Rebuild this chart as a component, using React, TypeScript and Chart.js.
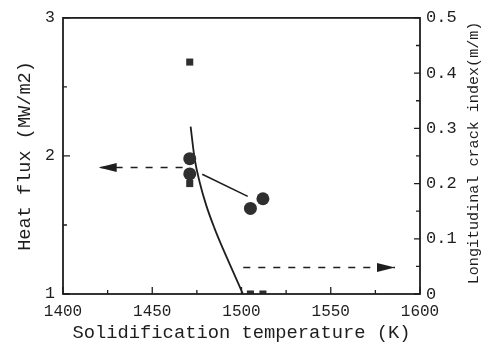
import { useEffect, useRef } from "react";
import { Chart, registerables } from "chart.js";

Chart.register(...registerables);

// Axis ranges
const tempRange = [1400, 1600];
const fluxRange = [1, 3];
const crackRange = [0, 0.5];

// Labelled and minor tick positions
const tempTicks = [1400, 1450, 1500, 1550, 1600];
const tempMinorTicks = [1425, 1475, 1525, 1575];
const fluxTicks = [1, 2, 3];
const fluxMinorTicks = [1.5, 2.5];
const crackTicks = [0, 0.1, 0.2, 0.3, 0.4, 0.5];
const crackMinorTicks = [0.05, 0.15, 0.25, 0.35, 0.45];

// Heat flux measurements (left axis, circles)
const fluxTemps = [1471, 1471, 1505, 1512];
const fluxValues = [1.98, 1.87, 1.62, 1.69];

// Longitudinal crack index measurements (right axis, squares)
const crackTemps = [1471, 1471, 1505, 1512];
const crackValues = [0.42, 0.2, 0, 0];

// Crack index trend curve (right axis)
const curveTemps = [1471.5, 1473.8, 1476.6, 1480.3, 1485.0, 1489.6, 1495.2, 1500.8];
const curveValues = [0.303, 0.244, 0.202, 0.16, 0.118, 0.082, 0.041, 0];

// Heat flux trend segment (left axis)
const trendTemps = [1478, 1503.5];
const trendValues = [1.867, 1.707];

// Dashed arrows: tail first, tip last
const fluxArrowTemps = [1467, 1420];
const fluxArrowValues = [1.917, 1.917];
const crackArrowTemps = [1501, 1586];
const crackArrowValues = [0.048, 0.048];

const INK = "#1e1e1e";
const MARK = "#2f2f2f";
const FONT = "'Liberation Mono', 'DejaVu Sans Mono', monospace";

const pts = (xs: number[], ys: number[]) => xs.map((x, i) => ({ x, y: ys[i] }));

const framePlugin = {
  id: "frame",
  beforeDraw(chart: any) {
    const { ctx, width, height } = chart;
    ctx.save();
    ctx.fillStyle = "#ffffff";
    ctx.fillRect(0, 0, width, height);
    ctx.restore();
  },
  afterDatasetsDraw(chart: any) {
    const { ctx, chartArea: a, scales } = chart;
    const xs = scales.x;
    const ys = scales.y;
    const y1s = scales.y1;
    ctx.save();
    ctx.strokeStyle = INK;
    ctx.fillStyle = INK;

    // plot frame
    ctx.lineWidth = 1.8;
    ctx.strokeRect(a.left, a.top, a.right - a.left, a.bottom - a.top);

    // inward tick marks
    ctx.lineWidth = 1.3;
    ctx.beginPath();
    const xTick = (v: number, len: number) => {
      const px = xs.getPixelForValue(v);
      ctx.moveTo(px, a.bottom);
      ctx.lineTo(px, a.bottom - len);
    };
    tempTicks.forEach((v) => xTick(v, 7));
    tempMinorTicks.forEach((v) => xTick(v, 4));
    const lTick = (v: number, len: number) => {
      const py = ys.getPixelForValue(v);
      ctx.moveTo(a.left, py);
      ctx.lineTo(a.left + len, py);
    };
    fluxTicks.forEach((v) => lTick(v, 7));
    fluxMinorTicks.forEach((v) => lTick(v, 4));
    const rTick = (v: number, len: number) => {
      const py = y1s.getPixelForValue(v);
      ctx.moveTo(a.right, py);
      ctx.lineTo(a.right - len, py);
    };
    crackTicks.forEach((v) => rTick(v, 6));
    crackMinorTicks.forEach((v) => rTick(v, 4));
    ctx.stroke();

    // arrow heads at the tip of each dashed arrow
    const head = (tx: number[], ty: number[], scale: any) => {
      const n = tx.length - 1;
      const x0 = xs.getPixelForValue(tx[n - 1]);
      const y0 = scale.getPixelForValue(ty[n - 1]);
      const x1 = xs.getPixelForValue(tx[n]);
      const y1 = scale.getPixelForValue(ty[n]);
      const d = Math.hypot(x1 - x0, y1 - y0) || 1;
      const ux = (x1 - x0) / d;
      const uy = (y1 - y0) / d;
      const len = 18;
      const hw = 4.5;
      const bx = x1 - ux * len;
      const by = y1 - uy * len;
      ctx.beginPath();
      ctx.moveTo(x1, y1);
      ctx.lineTo(bx - uy * hw, by + ux * hw);
      ctx.lineTo(bx + uy * hw, by - ux * hw);
      ctx.closePath();
      ctx.fill();
    };
    head(fluxArrowTemps, fluxArrowValues, ys);
    head(crackArrowTemps, crackArrowValues, y1s);

    // right axis title, reading bottom to top
    ctx.font = `15.1px ${FONT}`;
    ctx.textAlign = "center";
    ctx.textBaseline = "middle";
    ctx.translate(a.right + 54, (a.top + a.bottom) / 2 - 3);
    ctx.rotate(-Math.PI / 2);
    ctx.fillText("Longitudinal crack index(m/m)", 0, 0);
    ctx.restore();
  },
};

export default function App() {
  const canvasRef = useRef<HTMLCanvasElement | null>(null);

  useEffect(() => {
    const canvas = canvasRef.current;
    if (!canvas) return;

    const chart = new Chart(canvas, {
      type: "line",
      data: {
        datasets: [
          {
            label: "Heat flux",
            data: pts(fluxTemps, fluxValues),
            yAxisID: "y",
            showLine: false,
            pointStyle: "circle",
            pointRadius: 6.5,
            pointBackgroundColor: MARK,
            pointBorderWidth: 0,
            borderColor: MARK,
          },
          {
            label: "Crack index",
            data: pts(crackTemps, crackValues),
            yAxisID: "y1",
            showLine: false,
            pointStyle: "rect",
            pointRadius: 5,
            pointBackgroundColor: MARK,
            pointBorderWidth: 0,
            borderColor: MARK,
          },
          {
            label: "Crack index trend",
            data: pts(curveTemps, curveValues),
            yAxisID: "y1",
            borderColor: INK,
            borderWidth: 1.8,
            pointRadius: 0,
            cubicInterpolationMode: "monotone",
          },
          {
            label: "Heat flux trend",
            data: pts(trendTemps, trendValues),
            yAxisID: "y",
            borderColor: INK,
            borderWidth: 1.6,
            pointRadius: 0,
          },
          {
            label: "Heat flux axis arrow",
            data: pts(fluxArrowTemps, fluxArrowValues),
            yAxisID: "y",
            borderColor: INK,
            borderWidth: 1.5,
            borderDash: [7, 8],
            pointRadius: 0,
          },
          {
            label: "Crack index axis arrow",
            data: pts(crackArrowTemps, crackArrowValues),
            yAxisID: "y1",
            borderColor: INK,
            borderWidth: 1.5,
            borderDash: [7, 8],
            pointRadius: 0,
          },
        ],
      },
      options: {
        animation: false,
        responsive: false,
        devicePixelRatio: 1,
        layout: { padding: { top: 15, left: 0, right: 0, bottom: 0 } },
        plugins: {
          legend: { display: false },
          tooltip: { enabled: false },
        },
        scales: {
          x: {
            type: "linear",
            position: "bottom",
            min: tempRange[0],
            max: tempRange[1],
            afterBuildTicks: (s: any) => {
              s.ticks = tempTicks.map((value) => ({ value }));
            },
            afterFit: (s: any) => {
              s.height = 55;
            },
            grid: { display: false, drawTicks: false },
            border: { display: false },
            ticks: {
              padding: 8,
              autoSkip: false,
              maxRotation: 0,
              color: INK,
              font: { family: FONT, size: 16 },
              callback: (v: any) => String(v),
            },
            title: {
              display: true,
              text: "Solidification temperature (K)",
              color: INK,
              font: { family: FONT, size: 18.8 },
              padding: { top: 0, bottom: 5 },
            },
          },
          y: {
            type: "linear",
            position: "left",
            min: fluxRange[0],
            max: fluxRange[1],
            afterBuildTicks: (s: any) => {
              s.ticks = fluxTicks.map((value) => ({ value }));
            },
            afterFit: (s: any) => {
              s.width = 63;
            },
            grid: { display: false, drawTicks: false },
            border: { display: false },
            ticks: {
              padding: 8,
              color: INK,
              font: { family: FONT, size: 16.5 },
              callback: (v: any) => String(v),
            },
            title: {
              display: true,
              text: "Heat flux (MW/m2)",
              color: INK,
              font: { family: FONT, size: 18.6 },
              padding: { top: 14, bottom: 0 },
            },
          },
          y1: {
            type: "linear",
            position: "right",
            min: crackRange[0],
            max: crackRange[1],
            afterBuildTicks: (s: any) => {
              s.ticks = crackTicks.map((value) => ({ value }));
            },
            afterFit: (s: any) => {
              s.width = 66;
            },
            grid: { display: false, drawTicks: false },
            border: { display: false },
            ticks: {
              padding: 6,
              color: INK,
              font: { family: FONT, size: 17 },
              callback: (v: any) => String(Math.round(v * 10) / 10),
            },
          },
        },
      },
      plugins: [framePlugin],
    });

    return () => chart.destroy();
  }, []);

  return (
    <canvas
      ref={canvasRef}
      width={486}
      height={349}
      style={{ position: "absolute", left: 0, top: 0 }}
    />
  );
}
